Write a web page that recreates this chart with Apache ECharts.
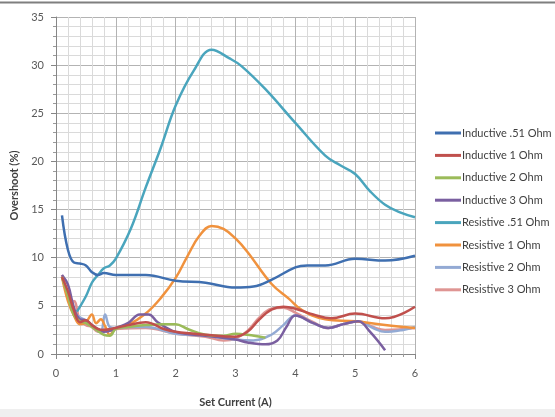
<!DOCTYPE html>
<html>
<head>
<meta charset="utf-8">
<script src="https://cdn.jsdelivr.net/npm/echarts@6/dist/echarts.min.js"></script>
<style>
  html, body { margin: 0; padding: 0; background: #ffffff; }
  #chart { width: 555px; height: 417px; }
</style>
</head>
<body>
<div id="chart"></div>
<script>
// Overshoot (%) versus set current (A) for inductive and resistive loads

const seriesNames = [
  'Inductive .51 Ohm', 'Inductive 1 Ohm', 'Inductive 2 Ohm', 'Inductive 3 Ohm',
  'Resistive .51 Ohm', 'Resistive 1 Ohm', 'Resistive 2 Ohm', 'Resistive 3 Ohm'
];
const seriesColors = ['#3f6fb0', '#c0504d', '#9bbb59', '#7a5fa0', '#4aa5bd', '#f0923e', '#93aad4', '#df9593'];

const xTicks = [0, 1, 2, 3, 4, 5, 6];
const yTicks = [0, 5, 10, 15, 20, 25, 30, 35];

// Inductive .51 Ohm
const ind051X = [0.1, 0.2, 0.3, 0.4, 0.5, 0.6, 0.7, 0.8, 1.0, 1.5, 2.0, 2.5, 3.0, 3.3, 3.6, 4.0, 4.2, 4.5, 5.0, 5.5, 6.0];
const ind051Y = [14.4, 10.8, 9.5, 9.4, 9.2, 8.5, 8.2, 8.4, 8.2, 8.2, 7.6, 7.4, 6.9, 7.0, 7.7, 9.0, 9.2, 9.2, 9.9, 9.7, 10.2];

// Inductive 1 Ohm
const ind1X = [0.1, 0.2, 0.3, 0.4, 0.5, 0.6, 0.7, 0.8, 0.9, 1.0, 1.2, 1.5, 1.8, 2.0, 2.5, 3.0, 3.2, 3.4, 3.6, 3.8, 4.0, 4.3, 4.6, 5.0, 5.5, 6.0];
const ind1Y = [8.0, 6.5, 4.5, 3.3, 3.5, 3.0, 2.6, 2.5, 2.6, 2.7, 3.0, 3.3, 2.6, 2.3, 2.0, 1.8, 2.3, 3.6, 4.6, 4.9, 4.7, 4.1, 3.7, 4.2, 3.7, 4.9];

// Inductive 2 Ohm
const ind2X = [0.1, 0.2, 0.3, 0.4, 0.5, 0.6, 0.7, 0.8, 0.9, 1.0, 1.2, 1.5, 1.8, 2.0, 2.2, 2.5, 2.8, 3.0, 3.2, 3.5];
const ind2Y = [8.0, 6.0, 4.0, 3.4, 3.2, 2.8, 2.4, 2.0, 1.9, 2.6, 2.8, 3.0, 3.1, 3.1, 2.6, 2.0, 1.9, 2.1, 2.0, 1.7];

// Inductive 3 Ohm
const ind3X = [0.1, 0.2, 0.3, 0.4, 0.5, 0.6, 0.7, 0.8, 0.9, 1.0, 1.2, 1.4, 1.55, 1.7, 2.0, 2.5, 3.0, 3.2, 3.5, 3.7, 3.85, 4.0, 4.3, 4.55, 4.8, 5.05, 5.25, 5.5];
const ind3Y = [8.2, 7.2, 4.8, 3.6, 3.5, 3.0, 2.6, 2.3, 2.4, 2.7, 3.2, 4.1, 4.1, 3.3, 2.3, 1.9, 1.5, 1.2, 1.0, 1.4, 2.8, 4.0, 3.2, 2.7, 3.1, 3.4, 2.3, 0.4];

// Resistive .51 Ohm
const res051X = [0.35, 0.5, 0.6, 0.7, 0.8, 0.9, 1.0, 1.25, 1.5, 1.75, 2.0, 2.3, 2.6, 2.9, 3.1, 3.5, 4.0, 4.5, 4.75, 5.0, 5.25, 5.5, 5.75, 6.0];
const res051Y = [4.4, 6.0, 7.4, 8.2, 8.9, 9.2, 9.9, 13.0, 17.3, 21.4, 25.8, 29.4, 31.6, 30.7, 29.9, 27.5, 24.0, 20.6, 19.6, 18.7, 16.9, 15.5, 14.7, 14.2];

// Resistive 1 Ohm
const res1X = [0.1, 0.2, 0.3, 0.4, 0.5, 0.6, 0.67, 0.75, 0.82, 0.9, 1.0, 1.2, 1.5, 1.75, 2.0, 2.2, 2.4, 2.6, 2.8, 3.0, 3.2, 3.6, 3.9, 4.1, 4.5, 5.0, 5.5, 6.0];
const res1Y = [8.0, 5.5, 4.0, 3.1, 3.3, 4.1, 3.2, 3.6, 2.9, 2.0, 2.7, 3.0, 4.2, 5.8, 7.9, 10.2, 12.3, 13.3, 13.0, 12.0, 10.6, 7.3, 5.7, 4.6, 3.6, 3.4, 3.0, 2.7];

// Resistive 2 Ohm
const res2X = [0.1, 0.2, 0.3, 0.4, 0.5, 0.6, 0.7, 0.75, 0.82, 0.9, 1.0, 1.2, 1.5, 2.0, 2.5, 3.0, 3.3, 3.6, 3.8, 4.0, 4.3, 4.55, 4.8, 5.05, 5.3, 5.5, 5.8, 6.0];
const res2Y = [8.0, 6.0, 4.3, 3.8, 3.5, 3.0, 2.4, 2.3, 4.1, 2.8, 2.7, 2.8, 2.8, 2.1, 1.9, 1.5, 1.4, 2.0, 3.0, 4.0, 3.2, 2.7, 3.1, 3.4, 2.7, 2.3, 2.5, 2.8];

// Resistive 3 Ohm
const res3X = [0.1, 0.2, 0.25, 0.3, 0.4, 0.5, 0.6, 0.7, 0.8, 0.9, 1.0, 1.5, 2.0, 2.5, 2.8, 3.0, 3.2, 3.4, 3.6, 3.8, 4.0, 4.3, 4.55, 4.8, 5.05, 5.3, 5.5, 6.0];
const res3Y = [8.2, 6.0, 5.2, 5.5, 3.5, 3.0, 2.8, 2.3, 2.6, 2.5, 2.6, 2.7, 2.1, 1.8, 1.4, 1.6, 2.4, 3.8, 4.7, 4.8, 4.3, 3.3, 2.7, 3.1, 3.4, 2.8, 2.5, 2.7];

const seriesX = [ind051X, ind1X, ind2X, ind3X, res051X, res1X, res2X, res3X];
const seriesY = [ind051Y, ind1Y, ind2Y, ind3Y, res051Y, res1Y, res2Y, res3Y];

const pair = (xs, ys) => xs.map((x, i) => [x, ys[i]]);

const chart = echarts.init(document.getElementById('chart'), null, { renderer: 'canvas' });

const labelFont = 'Lato, "Open Sans", sans-serif';

chart.setOption({
  animation: false,
  backgroundColor: '#ffffff',
  graphic: [
    { type: 'line', shape: { x1: 0, y1: 2.5, x2: 555, y2: 2.5 }, style: { stroke: '#7f7f7f', lineWidth: 2 }, z: -1 },
    { type: 'rect', shape: { x: 0, y: 409, width: 555, height: 8 }, style: { fill: '#efefef' }, z: -1 }
  ],
  grid: { left: 56, right: 140, top: 17, bottom: 63 },
  legend: {
    orient: 'vertical',
    left: 435,
    top: 126,
    padding: 0,
    itemGap: 8.4,
    itemWidth: 26,
    itemHeight: 3,
    icon: 'rect',
    data: seriesNames,
    textStyle: { color: '#404040', fontSize: 11, fontFamily: labelFont, lineHeight: 14, padding: [0, 0, 0, -4] }
  },
  xAxis: {
    type: 'value',
    min: xTicks[0],
    max: xTicks[xTicks.length - 1],
    interval: 1,
    name: 'Set Current (A)',
    nameLocation: 'middle',
    nameGap: 43,
    nameTextStyle: { color: '#404040', fontSize: 11, fontWeight: 'bold', fontFamily: labelFont },
    axisLine: { show: true, lineStyle: { color: '#868686', width: 1 } },
    axisTick: { show: true, length: 5, lineStyle: { color: '#868686' } },
    minorTick: { show: true, splitNumber: 5, length: 3, lineStyle: { color: '#9a9a9a' } },
    axisLabel: { color: '#595959', fontSize: 11, fontFamily: labelFont, margin: 14 },
    splitLine: { show: true, lineStyle: { color: '#b3b3b3', width: 1 } },
    minorSplitLine: { show: true, lineStyle: { color: '#dadada', width: 1 } }
  },
  yAxis: {
    type: 'value',
    min: yTicks[0],
    max: yTicks[yTicks.length - 1],
    interval: 5,
    name: 'Overshoot (%)',
    nameLocation: 'middle',
    nameGap: 36,
    nameRotate: 90,
    nameTextStyle: { color: '#404040', fontSize: 11, fontWeight: 'bold', fontFamily: labelFont },
    axisLine: { show: true, lineStyle: { color: '#868686', width: 1 } },
    axisTick: { show: true, length: 5, lineStyle: { color: '#868686' } },
    minorTick: { show: true, splitNumber: 5, length: 3, lineStyle: { color: '#9a9a9a' } },
    axisLabel: { color: '#595959', fontSize: 11, fontFamily: labelFont, margin: 12 },
    splitLine: { show: true, lineStyle: { color: '#b3b3b3', width: 1 } },
    minorSplitLine: { show: true, lineStyle: { color: '#dadada', width: 1 } }
  },
  series: seriesNames.map((name, i) => ({
    name: name,
    type: 'line',
    data: pair(seriesX[i], seriesY[i]),
    smooth: 0.4,
    showSymbol: false,
    color: seriesColors[i],
    lineStyle: { width: 2.5, color: seriesColors[i] },
    z: 2 + (seriesNames.length - i)
  }))
});
</script>
</body>
</html>
